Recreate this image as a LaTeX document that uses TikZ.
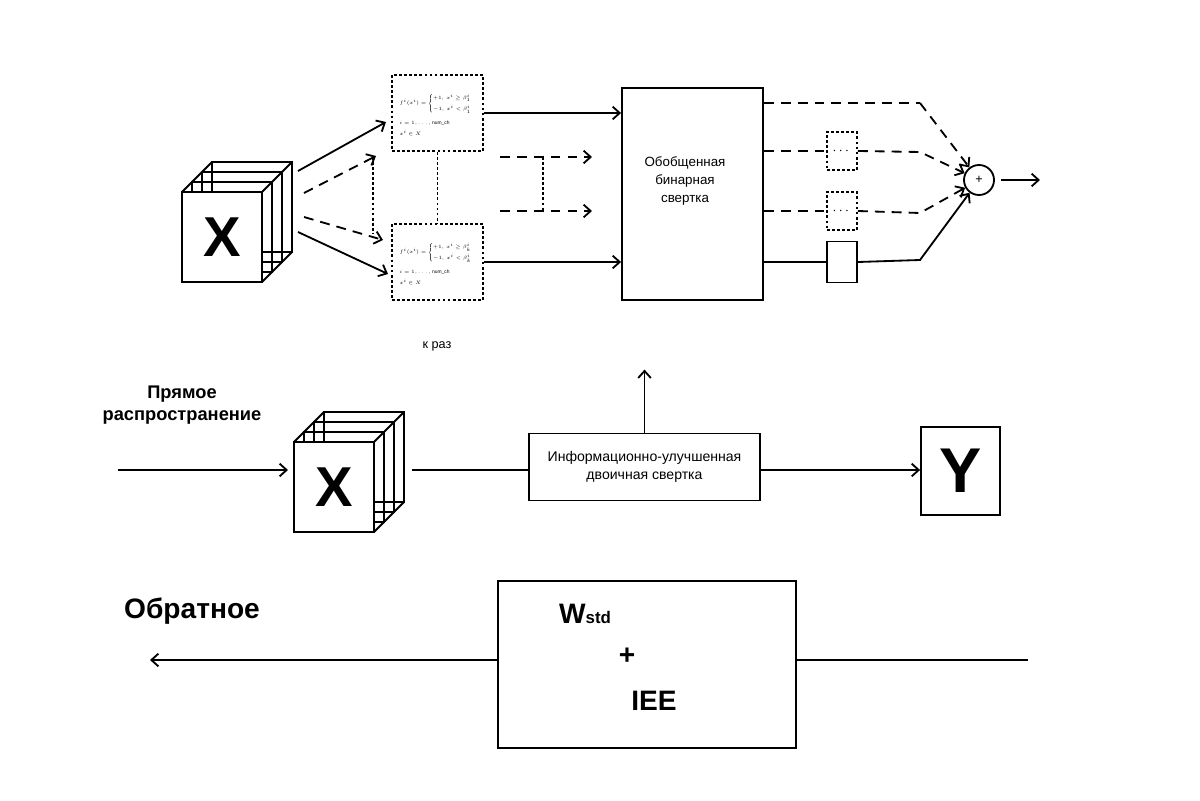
\documentclass[tikz,border=0pt]{standalone}
\usepackage{amsmath}
\usepackage{fontspec}
\setmainfont{Liberation Sans}
\usetikzlibrary{arrows.meta,calc}

\tikzset{
  box/.style={draw, line width=1.3pt, inner sep=0pt, align=center},
  dotbox/.style={draw, line width=1.3pt, dash pattern=on 2pt off 1.6pt, inner sep=0pt},
  dashline/.style={dash pattern=on 7pt off 5pt},
  dotline/.style={dash pattern=on 2pt off 1.6pt},
  face/.style={draw, fill=white, minimum width=2cm, minimum height=2.25cm,
    inner sep=0pt, font=\bfseries\fontsize{40}{40}\selectfont},
  formula/.style={anchor=west, align=left, inner sep=0pt, scale=0.7, transform shape,
    font=\fontsize{5}{7}\selectfont},
  layered cube/.pic={
    \foreach \d in {30,20,10}
      \draw (-40+\d,-45-\d) rectangle ++(80,90);
    \draw (-40,-45) -- (-10,-75) (40,-45) -- (70,-75) (40,45) -- (70,15);
    \node[face] (-f) at (0,0) {X};
  }
}

\begin{document}
\begin{tikzpicture}[x=0.025cm, y=-0.025cm, line width=1.3pt,
  >={Straight Barb[length=5pt,width=9pt]}]
  \useasboundingbox (0,0) rectangle (1200,800);

  % --- Top row: input tensor and binarizers ---
  \pic (x1) at (222,237) {layered cube};

  \node[dotbox, minimum width=2.275cm, minimum height=1.9cm] (f1) at (437.5,113) {};
  \node[formula] (t1) at ($(f1.west)+(8,2)$) {$f^i(x^i)=\begin{cases}+1,\ x^i\ge\beta^i_1\\[3pt]-1,\ x^i<\beta^i_1\end{cases}$\\[7pt]
    $i=1,\dots,\mathrm{num\_ch}$\\[4pt] $x^i\in X$};
  \node[dotbox, minimum width=2.275cm, minimum height=1.9cm] (f2) at (437.5,262) {};
  \node[formula] (t2) at ($(f2.west)+(8,2)$) {$f^i(x^i)=\begin{cases}+1,\ x^i\ge\beta^i_k\\[3pt]-1,\ x^i<\beta^i_k\end{cases}$\\[7pt]
    $i=1,\dots,\mathrm{num\_ch}$\\[4pt] $x^i\in X$};
  \draw[dotline] (f1.south) -- (f2.north);
  \node[font=\fontsize{9}{11}\selectfont] (times) at (437,346) {к раз};

  \draw[->] (298,171) -- (386,122);
  \draw[->] (298,232) -- (388,274);
  \draw[dashline,->] (304,193) -- (376,156);
  \draw[dashline,->] (304,217) -- (383,240);
  \draw[dotline] (373,157) -- (373,233);

  \node[box, minimum width=3.525cm, minimum height=5.3cm] (gen) at (692.5,194) {};
  \node[align=center, font=\fontsize{9.5}{12.5}\selectfont] (gentext) at (685,181)
    {Обобщенная\\бинарная\\свертка};
  \draw[->] (f1.east) -- (f1.east -| gen.west);
  \draw[->] (f2.east) -- (f2.east -| gen.west);
  \draw[dashline,->] (500,157) -- (592,157);
  \draw[dashline,->] (500,211) -- (592,211);
  \draw[dotline] (543,157) -- (543,211);

  % --- Outputs of the generalized convolution ---
  \node[dotbox, minimum width=0.75cm, minimum height=0.95cm] (d1) at (842,151) {$\cdots$};
  \node[dotbox, minimum width=0.75cm, minimum height=0.95cm] (d2) at (842,211) {$\cdots$};
  \node[box, minimum width=0.75cm, minimum height=1.025cm] (s1) at (842,262) {};
  \node[draw, circle, minimum size=0.75cm, inner sep=0pt, font=\small] (sum) at (979,180) {+};
  \coordinate (k1) at (920,103);
  \coordinate (k2) at (920,152);
  \coordinate (k3) at (920,213);
  \coordinate (k4) at (920,260);
  \coordinate (out) at (1040,180);

  \draw[dashline] (k1 -| gen.east) -- (k1);
  \draw[dashline,->] (k1) -- (sum);
  \draw[dashline] (d1 -| gen.east) -- (d1.west);
  \draw[dashline,->] (d1.east) -- (k2) -- (sum);
  \draw[dashline] (d2 -| gen.east) -- (d2.west);
  \draw[dashline,->] (d2.east) -- (k3) -- (sum);
  \draw (s1 -| gen.east) -- (s1.west);
  \draw[->] (s1.east) -- (k4) -- (sum);
  \draw[->] (sum) ++(22,0) -- (out);

  % --- Middle row: forward pass ---
  \node[align=center, font=\bfseries\fontsize{13}{16}\selectfont] (fwd) at (182,405)
    {Прямое\\распространение};
  \pic (x2) at (334,487) {layered cube};
  \node[box, minimum width=5.775cm, minimum height=1.675cm, font=\fontsize{10}{12.5}\selectfont]
    (info) at (644.5,467) {Информационно-улучшенная\\двоичная свертка};
  \node[box, minimum width=1.975cm, minimum height=2.2cm,
    font=\bfseries\fontsize{45}{45}\selectfont] (Y) at (960.5,471) {Y};
  \coordinate (in) at (118,470);
  \coordinate (lo) at (412,470);
  \draw[->] (in) -- (288,470);
  \draw (lo) -- (lo -| info.west);
  \draw[->] (info.east |- in) -- (Y.west |- in);
  \draw[->] (info.north) -- ++(0,-63);

  % --- Bottom row: backward pass ---
  \node[font=\bfseries\fontsize{20}{24}\selectfont] (bwd) at (192,611) {Обратное};
  \node[box, minimum width=7.45cm, minimum height=4.175cm] (back) at (647,664.5) {};
  \node[font=\bfseries\fontsize{20}{24}\selectfont] (wstd) at (585,614)
    {W{\fontsize{12}{14}\selectfont std}};
  \node[font=\bfseries\fontsize{20}{24}\selectfont] (plus) at (627,656) {+};
  \node[font=\bfseries\fontsize{20}{24}\selectfont] (iee) at (654,701) {IEE};
  \coordinate (bk) at (1028,660);
  \draw (bk) -- (bk -| back.east);
  \draw[->] (back.west |- bk) -- (150,660);
\end{tikzpicture}
\end{document}
